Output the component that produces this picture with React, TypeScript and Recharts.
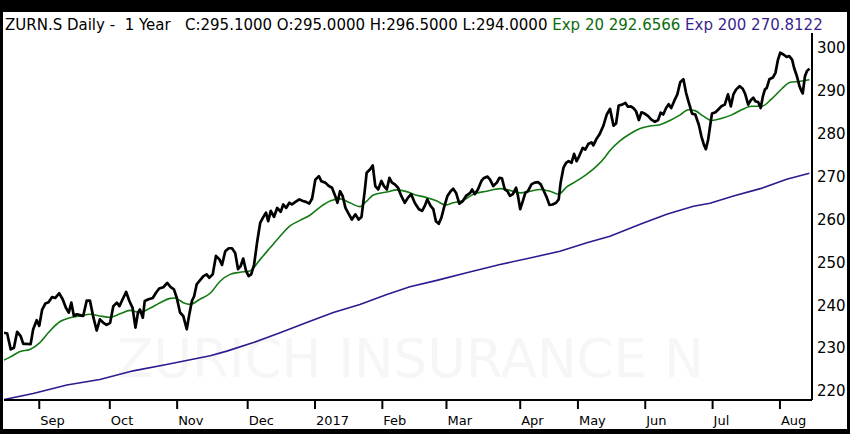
import { LineChart, Line, XAxis, YAxis } from 'recharts';

// ZURN.S daily close, one year (x = trading session since start of window)
const sessions = [
  0, 1, 2.1, 3.1, 4.1, 5.2, 6, 7.1, 8.3, 9.1, 10.2, 11, 11.9, 12.9, 13.9, 15, 16, 17.2, 18.3, 19.3,
  20.2, 21, 21.8, 22.7, 23.7, 24.7, 25.8, 26.8, 27.9, 28.9, 29.9, 31, 32, 33.1, 34.1, 35.2, 36, 37, 38.1, 39.1,
  40.1, 41, 41.8, 42.4, 43.3, 43.9, 45.1, 46.4, 47.4, 48.4, 49.7, 50.9, 52, 53, 53.9, 54.9, 55.9, 57, 57.8, 58.6,
  59.3, 60.1, 61.1, 62.2, 63.2, 64, 65.1, 66.1, 67.2, 68, 69, 70.1, 71.1, 72.1, 73, 73.8, 74.6, 75.5, 76.3, 77.1,
  78, 79, 79.9, 80.9, 81.7, 82.4, 83.2, 84.2, 85.2, 86.3, 87.1, 88, 89, 89.8, 90.9, 92.1, 93.2, 94.2, 95.2, 96.1,
  97.1, 98.2, 99, 100.2, 101.3, 102.3, 103.3, 104, 104.8, 105.6, 106.5, 107.5, 108.5, 109.6, 110.6, 111.5, 112.5, 113.1, 114.2, 115,
  115.8, 116.7, 117.7, 118.5, 119.4, 120.2, 121, 121.9, 122.9, 123.9, 125, 126, 127, 128.1, 129.4, 130.4, 131.2, 132, 133.1, 133.9,
  134.7, 135.6, 136.4, 137.2, 138.3, 139.3, 140.1, 141, 142, 143.1, 144.1, 145.4, 146, 146.8, 147.8, 148.9, 149.7, 150.8, 151.6, 152.6,
  153.7, 154.5, 155.3, 156.2, 157, 157.8, 158.7, 159.7, 160.3, 161, 161.8, 162.6, 163.4, 164.5, 165.5, 166.6, 167.4, 168.4, 169.3, 170.1,
  171.1, 172.2, 173, 173.6, 174.5, 175.3, 176.1, 177, 177.8, 178.6, 179.4, 180.5, 181.3, 182.2, 183.2, 183.8, 184.7, 185.7, 186.9, 188,
  189, 190.1, 190.9, 191.7, 192.8, 193.8, 194.6, 195.5, 196.3, 197.1, 198, 198.8, 199.8, 200.9, 201.9, 203, 204, 204.8, 205.6, 206.5,
  207.3, 208.1, 209, 210, 210.9, 211.9, 212.7, 213.6, 214.6, 215.6, 216.7, 217.5, 218.3, 218.9, 219.6, 220.2, 220.8, 221.9, 222.7, 223.7,
  224.8, 225.8, 226.7, 227.5, 228.3, 229.4, 230.4, 231.2, 232.1, 232.9, 233.7, 234.3, 235.2, 236, 236.7, 237.3, 237.9, 238.7, 239.8, 240.6,
  241.4, 242.1, 243.1, 244.1, 244.9, 245.8, 246.4, 247.3, 248.1, 248.7, 249.1, 249.8, 250.4, 251.2,
];

const closes = [
  233.6, 233.4, 229.7, 230.1, 233.8, 232.8, 231.0, 231.0, 230.9, 234.4, 236.5, 235.2, 239.0, 240.4, 240.7, 241.9, 241.7, 242.8, 241.4, 239.4,
  238.3, 240.6, 237.5, 237.9, 237.7, 237.5, 241.1, 241.1, 237.1, 234.1, 236.7, 235.9, 235.4, 235.9, 239.8, 240.6, 239.8, 241.4, 243.1, 241.0,
  239.4, 234.8, 238.3, 239.0, 237.1, 241.0, 241.4, 241.7, 242.9, 243.9, 244.2, 245.2, 244.2, 243.7, 241.7, 238.3, 237.5, 234.4, 237.9, 241.0,
  242.1, 244.9, 245.8, 246.8, 247.2, 246.4, 247.2, 251.5, 250.7, 249.4, 252.6, 253.3, 253.3, 252.2, 248.4, 249.1, 250.9, 248.0, 246.8, 247.2,
  249.5, 255.0, 259.2, 260.6, 261.6, 259.6, 262.0, 260.6, 262.7, 261.8, 263.5, 262.7, 263.9, 263.5, 264.1, 264.7, 264.3, 264.1, 263.7, 264.9,
  269.3, 270.1, 268.9, 268.6, 267.8, 267.4, 265.5, 263.9, 266.6, 265.5, 262.7, 261.3, 260.0, 261.2, 260.0, 260.6, 266.6, 270.9, 271.7, 272.6,
  267.8, 267.0, 269.0, 267.8, 267.0, 269.7, 268.6, 268.2, 267.4, 265.5, 263.9, 265.1, 265.9, 263.9, 262.4, 262.0, 263.1, 264.7, 263.1, 262.4,
  259.6, 259.0, 260.4, 262.7, 265.5, 266.6, 267.2, 266.2, 263.7, 264.3, 265.5, 266.2, 267.0, 265.9, 267.0, 269.0, 269.7, 270.0, 269.3, 267.8,
  268.6, 269.7, 269.6, 267.0, 266.6, 265.5, 265.9, 267.4, 265.5, 262.4, 264.3, 266.2, 266.6, 268.2, 268.6, 268.7, 268.2, 266.6, 265.1, 263.4,
  263.5, 263.9, 264.7, 268.6, 272.1, 273.2, 273.6, 273.2, 275.3, 273.6, 274.8, 276.7, 276.3, 277.6, 278.0, 277.3, 278.7, 279.8, 281.8, 284.5,
  285.8, 281.9, 282.4, 286.6, 286.8, 287.2, 286.3, 286.4, 286.0, 285.3, 283.2, 285.0, 284.7, 284.1, 283.3, 282.8, 283.2, 284.9, 284.5, 286.0,
  286.9, 286.0, 287.6, 289.2, 292.0, 292.7, 289.6, 287.2, 284.7, 284.5, 282.1, 279.4, 277.4, 276.4, 278.6, 281.7, 284.7, 285.0, 285.6, 286.4,
  286.8, 289.2, 286.4, 289.2, 290.3, 291.1, 290.5, 289.2, 286.8, 287.8, 288.4, 287.6, 287.4, 286.0, 288.8, 290.3, 290.7, 292.7, 293.1, 294.2,
  297.3, 298.9, 298.5, 297.9, 298.1, 297.3, 295.4, 293.4, 291.1, 290.0, 289.4, 293.4, 294.6, 295.2,
];

// Exp 20 moving average, read at intervals
const ema20Sessions = [
  0, 1.9, 5, 8.1, 11.2, 14.3, 17.5, 20.6, 23.7, 26.8, 29.9, 33.1, 36.2, 39.3, 42.4, 45.5, 48.7, 51.8, 53.3, 55.9,
  58, 61.1, 64.3, 67.4, 70.5, 73.6, 76.7, 79.9, 83, 86.1, 89.2, 92.3, 95.4, 98.6, 101.7, 104.8, 107.9, 111, 113.1, 115.2,
  119.4, 122.5, 125.6, 127.7, 131.8, 135, 137.6, 140.1, 143.3, 146.4, 150.6, 154.7, 157.8, 161, 164.1, 167.2, 170.3, 172.9, 175.5, 178.6,
  181.8, 184.9, 187.5, 189, 192.2, 195.3, 198.4, 201.5, 204.6, 207.7, 210.9, 213.4, 215.5, 218.1, 220.7, 223.9, 227, 230.1, 233.2, 236.3,
  239.5, 242.6, 245.2, 247.8, 251.2,
];
const ema20Values = [
  227.2, 227.9, 229.2, 229.7, 231.3, 234.0, 236.2, 237.1, 237.5, 237.9, 237.5, 237.2, 238.0, 238.8, 238.3, 239.3, 240.6, 241.6, 241.7, 240.6,
  240.2, 241.4, 242.8, 245.6, 247.2, 247.7, 248.0, 250.7, 253.4, 256.1, 258.5, 259.8, 261.0, 262.9, 264.3, 264.8, 263.9, 263.0, 264.3, 265.7,
  266.4, 266.9, 266.5, 265.9, 265.1, 264.3, 263.4, 263.9, 264.5, 265.9, 266.6, 267.2, 266.8, 266.2, 266.6, 267.0, 266.6, 265.9, 267.6, 269.0,
  270.6, 272.5, 274.6, 276.1, 278.4, 280.0, 281.2, 281.8, 282.1, 283.1, 284.4, 285.6, 285.4, 284.1, 283.1, 283.6, 284.4, 285.6, 286.4, 286.4,
  288.2, 290.5, 292.0, 292.2, 292.6,
];

// Exp 200 moving average, read at intervals
const ema200Sessions = [
  0, 9.1, 19.6, 29.9, 40.3, 50.7, 64.3, 69.5, 77.8, 86.1, 94.4, 102.7, 111, 119.4, 126.6,
  135, 144.3, 154.7, 165.1, 173.4, 181.8, 189, 198.4, 206.7, 215, 220.2, 227.5, 235.9, 244.1, 251.2,
];
const ema200Values = [
  218.0, 219.4, 221.4, 222.7, 224.7, 226.2, 228.2, 229.3, 231.3, 233.6, 236.0, 238.3, 240.2, 242.5, 244.3,
  245.8, 247.6, 249.5, 251.2, 252.6, 254.6, 256.1, 258.9, 261.2, 263.1, 263.8, 265.5, 267.2, 269.4, 270.8,
];

// first session of each month
const monthTicks = [11, 33, 54, 76, 97, 118, 138, 161, 179, 200, 221, 242];
const monthLabels = ['Sep', 'Oct', 'Nov', 'Dec', '2017', 'Feb', 'Mar', 'Apr', 'May', 'Jun', 'Jul', 'Aug'];
const priceTicks = [220, 230, 240, 250, 260, 270, 280, 290, 300];

const priceData = sessions.map((d, i) => ({ d, v: closes[i] }));
const ema20Data = ema20Sessions.map((d, i) => ({ d, v: ema20Values[i] }));
const ema200Data = ema200Sessions.map((d, i) => ({ d, v: ema200Values[i] }));

const FONT = '"DejaVu Sans", Verdana, sans-serif';

const MonthTick = (props: any) => {
  const { x, y, payload } = props;
  const idx = monthTicks.indexOf(payload.value);
  return (
    <text x={x + 1} y={y} dy={14} fontSize={13} fontFamily={FONT} fill="#000" textAnchor="start">
      {monthLabels[idx]}
    </text>
  );
};

export default function App() {
  return (
    <div style={{ position: 'absolute', left: 0, top: 0, width: 850, height: 434, background: '#000' }}>
      <div style={{ position: 'absolute', left: 3, top: 12, width: 844, height: 417, background: '#fff' }} />

      {/* watermark + header */}
      <svg width={850} height={434} style={{ position: 'absolute', left: 0, top: 0 }}>
        <text x={117} y={377} fontSize={53} fontFamily={FONT} fill="#f6f6f6">
          ZURICH INSURANCE N
        </text>
        <text x={5} y={29.5} fontSize={15} fontFamily={FONT} fill="#000" style={{ whiteSpace: 'pre' }}>
          {'ZURN.S Daily -  1 Year   C:295.1000 O:295.0000 H:296.5000 L:294.0000 '}
          <tspan fill="#0c6b0c">{'Exp 20 292.6566 '}</tspan>
          <tspan fill="#3a1f8f">{'Exp 200 270.8122'}</tspan>
        </text>
      </svg>

      <div style={{ position: 'absolute', left: 0, top: 0 }}>
        <LineChart width={850} height={434} margin={{ top: 33, right: 0, bottom: 0, left: 4 }}>
          <XAxis
            dataKey="d"
            type="number"
            domain={[0, 252]}
            ticks={monthTicks}
            interval={0}
            height={34}
            axisLine={{ stroke: '#000', strokeWidth: 2 }}
            tickLine={{ stroke: '#000', strokeWidth: 2 }}
            tickSize={9}
            tickMargin={2}
            tick={<MonthTick />}
            allowDataOverflow
          />
          <YAxis
            orientation="right"
            type="number"
            domain={[217.9, 303.5]}
            ticks={priceTicks}
            interval={0}
            width={38}
            axisLine={{ stroke: '#000', strokeWidth: 2 }}
            tickLine={false}
            tickSize={0}
            tickMargin={5}
            tick={{ fill: '#000', fontSize: 15, fontFamily: FONT }}
            allowDataOverflow
          />
          <Line
            data={ema200Data}
            dataKey="v"
            type="linear"
            stroke="#2e1a8e"
            strokeWidth={1.6}
            dot={false}
            activeDot={false}
            isAnimationActive={false}
          />
          <Line
            data={ema20Data}
            dataKey="v"
            type="monotone"
            stroke="#137a13"
            strokeWidth={1.6}
            dot={false}
            activeDot={false}
            isAnimationActive={false}
          />
          <Line
            data={priceData}
            dataKey="v"
            type="linear"
            stroke="#000"
            strokeWidth={2.7}
            strokeLinejoin="round"
            dot={false}
            activeDot={false}
            isAnimationActive={false}
          />
        </LineChart>
      </div>
    </div>
  );
}
